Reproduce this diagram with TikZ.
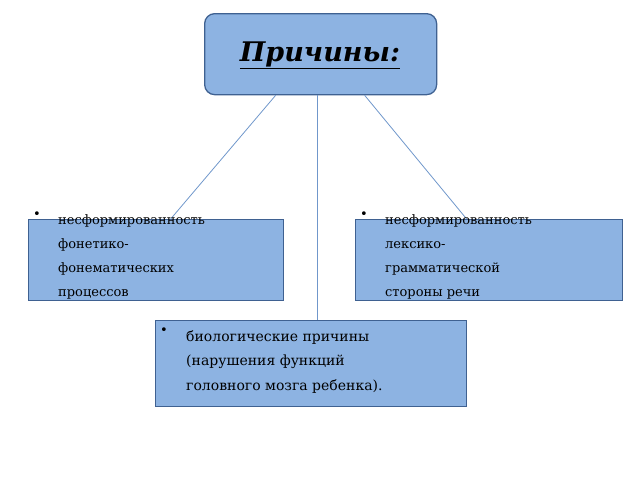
\documentclass[tikz,border=0pt]{standalone}
\usepackage{fontspec}
\setmainfont{DejaVu Serif}
\usetikzlibrary{shadows}
\definecolor{boxfill}{HTML}{8DB3E2}
\definecolor{boxline}{HTML}{3F6191}
\definecolor{conn}{HTML}{7097CB}
\begin{document}
\begin{tikzpicture}[x=1pt,y=-1pt,
  box/.style={draw=boxline,line width=1.3pt,fill=boxfill,inner sep=0,anchor=north west},
  txt/.style={anchor=north west,align=left,inner sep=0,font=\fontsize{13}{24}\selectfont},
  conn/.style={draw=conn,line width=0.8pt}]
\useasboundingbox (0,0) rectangle (640,480);
\node[box,rounded corners=10pt,minimum width=232pt,minimum height=81pt] (top) at (204,13) {};
\node[font=\fontsize{27}{30}\selectfont\bfseries\itshape] (title) at (320,55) {\underline{Причины:}};
\node[box,minimum width=255pt,minimum height=81pt] (left) at (28,219) {};
\node[box,minimum width=267pt,minimum height=81pt] (right) at (355,219) {};
\node[box,minimum width=311pt,minimum height=86pt] (bot) at (155,320) {};
\draw[conn] ([xshift=-45pt]top.south) -- ([xshift=14.5pt]left.north);
\draw[conn] ([xshift=-3pt]top.south) -- ([xshift=6.5pt]bot.north);
\draw[conn] ([xshift=44pt]top.south) -- ([xshift=-22.5pt]right.north);
\node[txt] (lt) at (58,214) {несформированность\\фонетико-\\фонематических\\процессов};
\node[txt] (lb) at (33,212) {\textbullet};
\node[txt] (rt) at (385,214) {несформированность\\лексико-\\грамматической\\стороны речи};
\node[txt] (rb) at (360,212) {\textbullet};
\node[txt,font=\fontsize{14}{24.5}\selectfont] (bt) at (186,330) {биологические причины\\(нарушения функций\\головного мозга ребенка).};
\node[txt] (bb) at (160,328) {\textbullet};
\end{tikzpicture}
\end{document}
